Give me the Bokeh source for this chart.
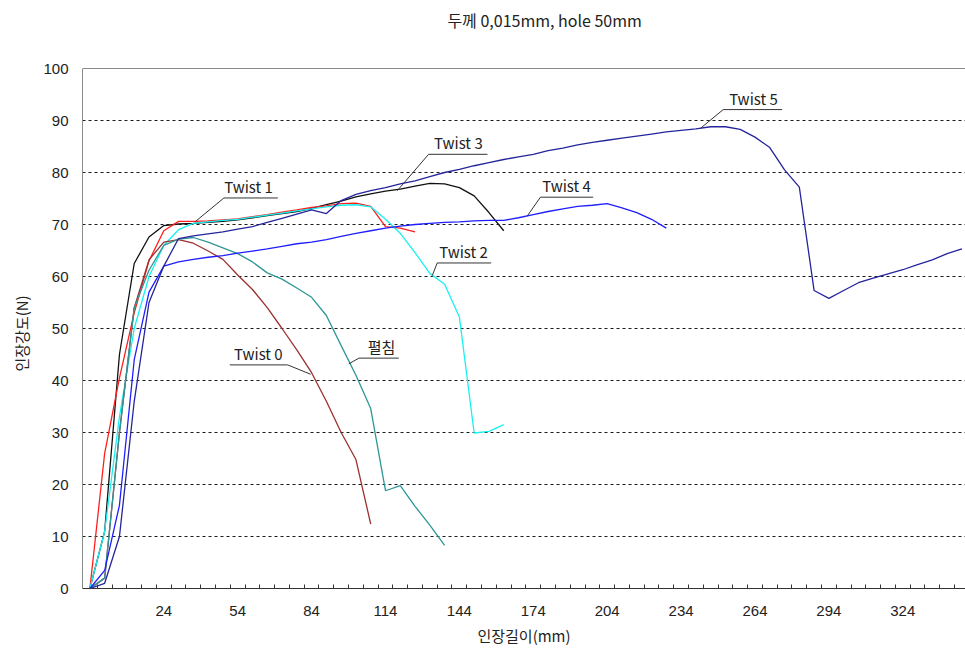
from bokeh.plotting import figure
from bokeh.models import Range1d, FixedTicker, Span, ColumnDataSource, Label, Title
from bokeh.core.properties import value
from bokeh.embed import file_html
from bokeh.resources import INLINE

# ---- texts -------------------------------------------------------------
title_text = "두께 0,015mm, hole 50mm"
x_title = "인장길이(mm)"
y_title = "인장강도(N)"

# ---- axes --------------------------------------------------------------
x_tick_labels = [24, 54, 84, 114, 144, 174, 204, 234, 264, 294, 324]
y_tick_labels = [0, 10, 20, 30, 40, 50, 60, 70, 80, 90, 100]

# elongation (mm) of each sampling step
elong = [-6, 0, 6, 12, 18, 24, 30, 36, 42, 48, 54, 60, 66, 72, 78, 84, 90, 96,
         102, 108, 114, 120, 126, 132, 138, 144, 150, 156, 162, 168, 174, 180,
         186, 192, 198, 204, 210, 216, 222, 228, 234, 240, 246, 252, 258, 264,
         270, 276, 282, 288, 294, 300, 306, 312, 318, 324, 330, 336, 342, 348]

# ---- tensile strength (N) per specimen ----------------------------------
twist0 = [0, 2, 30, 54, 63.2, 66.6, 67.1, 66.4, 64.9, 63.3, 60.3, 57.5, 54.0,
          50.0, 45.9, 41.5, 36.0, 30.0, 24.8, 12.4]
unfolded = [0, 2, 30, 54, 61.2, 66.0, 67.2, 67.5, 66.6, 65.5, 64.4, 62.8, 60.7,
            59.5, 57.8, 56.0, 52.5, 46.7, 41.0, 34.6, 18.8, 19.8, 15.8, 12.2, 8.3]
twist1 = [0, 26, 40.5, 53, 63, 68.8, 70.6, 70.6, 70.7, 70.9, 71.1, 71.5, 71.9,
          72.4, 72.8, 73.3, 73.6, 74.0, 74.1, 73.5, 69.6, 69.3, 68.6]
twist2 = [0, 11, 33, 50, 60, 66, 69, 70.2, 70.5, 70.8, 71.0, 71.4, 71.8, 72.2,
          72.6, 73.0, 73.4, 73.7, 73.8, 73.4, 71.0, 68.3, 64.6, 60.6, 58.5, 52.2,
          29.9, 30.2, 31.5]
twist3 = [0, 11, 45, 62.5, 67.6, 69.8, 70.1, 70.2, 70.4, 70.6, 70.9, 71.3, 71.7,
          72.1, 72.5, 73.1, 73.8, 74.5, 75.3, 75.9, 76.4, 76.8, 77.4, 77.9, 77.8,
          77.1, 75.5, 72.3, 68.8]
twist4 = [0, 3.5, 16, 44, 57, 62, 62.8, 63.3, 63.7, 64.0, 64.5, 64.9, 65.3, 65.8,
          66.3, 66.6, 67.1, 67.7, 68.3, 68.8, 69.3, 69.7, 70.0, 70.2, 70.4, 70.5,
          70.7, 70.8, 70.8, 71.3, 71.9, 72.5, 73.0, 73.5, 73.7, 74.0, 73.2, 72.3,
          71.0, 69.3]
twist5 = [0, 1, 10, 36, 55, 62, 67.3, 67.8, 68.2, 68.6, 69.1, 69.6, 70.4, 71.2,
          72.0, 72.8, 72.1, 74.6, 75.8, 76.5, 77.1, 77.8, 78.4, 79.2, 80.0, 80.6,
          81.3, 81.9, 82.5, 83.0, 83.5, 84.2, 84.7, 85.3, 85.8, 86.2, 86.6, 87.0,
          87.4, 87.8, 88.1, 88.4, 88.8, 88.8, 88.3, 86.8, 84.8, 80.5, 77.2, 57.3,
          55.8, 57.3, 58.8, 59.7, 60.5, 61.3, 62.3, 63.2, 64.4, 65.3]

series = [
    (twist3, "#111111"),
    (twist1, "#FF1E1E"),
    (twist2, "#19F0F0"),
    (twist0, "#9C3030"),
    (unfolded, "#2E9696"),
    (twist4, "#1E1EFF"),
    (twist5, "#24249C"),
]

# ---- callout labels: text, text centre, curve point, elbow, underline end
callout_names = ["Twist 5", "Twist 4", "Twist 3", "Twist 2", "Twist 1", "Twist 0", "펼침"]
callout_text_x = [263.4, 187.5, 143.6, 145.7, 58.4, 62.4, 112.4]
callout_curve_x = [241.9, 171.5, 118.8, 133.0, 36.9, 83.6, 99.1]
callout_curve_y = [88.5, 71.6, 76.5, 60.2, 70.6, 41.2, 43.2]
callout_elbow_x = [251.1, 176.9, 131.5, 135.0, 48.4, 74.3, 103.2]
callout_elbow_y = [92.1, 75.25, 83.5, 62.6, 75.1, 43.0, 44.3]
callout_end_x = [275.0, 198.3, 155.4, 156.9, 70.3, 50.8, 119.4]

FONT = "Noto Sans CJK KR"
NUM_FONT = "Liberation Sans"

# the plotting frame runs up to the page top so the heading can sit in it;
# the value axis itself is bounded to 0..100
Y_TOP = 588 / 5.2
p = figure(width=965, height=653, output_backend="svg", toolbar_location=None,
           x_range=Range1d(-9, 349.46), y_range=Range1d(0, Y_TOP),
           min_border_left=82, min_border_right=0, min_border_top=0,
           min_border_bottom=65, background_fill_color="white",
           border_fill_color="white", outline_line_color=None)

p.add_layout(Label(x=178.6, y=(588 - 19) / 5.2, text=title_text,
                   text_align="center", text_baseline="middle",
                   text_font=FONT, text_font_size="16px", text_color="#222222"))

# value-axis caption, centred on the 0..100 span rather than the whole frame
p.add_layout(Title(text=y_title, align="left", offset=217, standoff=17,
                   text_font=FONT, text_font_size="15px",
                   text_font_style="normal", text_color="#222222"), "left")

# grid: dashed horizontals only
p.xgrid.visible = False
p.ygrid.ticker = FixedTicker(ticks=[10, 20, 30, 40, 50, 60, 70, 80, 90])
p.ygrid.grid_line_color = "#1a1a1a"
p.ygrid.grid_line_dash = "3 3"
p.ygrid.grid_line_width = 1

p.add_layout(Span(location=100, dimension="width", line_color="#8a8a8a", line_width=1))

# x axis: labels every fifth step, small inward ticks between steps
xa = p.xaxis[0]
xa.ticker = FixedTicker(ticks=x_tick_labels,
                        minor_ticks=[e + 3 for e in elong[:-1]])
xa.major_tick_in = 0
xa.major_tick_out = 0
xa.minor_tick_in = 4
xa.minor_tick_out = 0
xa.minor_tick_line_color = "#333333"
xa.axis_line_color = "#333333"
xa.major_label_text_font = NUM_FONT
xa.major_label_text_font_size = "15px"
xa.major_label_text_color = "#222222"
xa.major_label_standoff = 17
xa.axis_label = x_title
xa.axis_label_text_font = FONT
xa.axis_label_text_font_size = "15px"
xa.axis_label_text_font_style = "normal"
xa.axis_label_text_color = "#222222"
xa.axis_label_standoff = 6

ya = p.yaxis[0]
ya.bounds = (0, 100)
ya.ticker = FixedTicker(ticks=y_tick_labels)
ya.minor_tick_line_color = None
ya.major_tick_in = 0
ya.major_tick_out = 0
ya.axis_line_color = "#8a8a8a"
ya.major_label_text_font = NUM_FONT
ya.major_label_text_font_size = "15px"
ya.major_label_text_color = "#222222"
ya.major_label_standoff = 14

for vals, color in series:
    p.line(elong[:len(vals)], vals, line_color=color, line_width=1.3)

# callout leaders and underlines
lead_xs = [[cx, ex, ux] for cx, ex, ux in zip(callout_curve_x, callout_elbow_x, callout_end_x)]
lead_ys = [[cy, ey, ey] for cy, ey in zip(callout_curve_y, callout_elbow_y)]
p.multi_line(lead_xs, lead_ys, line_color="#333333", line_width=1)

src = ColumnDataSource(dict(x=callout_text_x, y=callout_elbow_y, t=callout_names))
p.text("x", "y", text="t", source=src, text_align="center",
       text_baseline="bottom", y_offset=-1, text_font=value(FONT),
       text_font_size="15px", text_color="#222222")

open("out.html", "w").write(file_html(p, INLINE))
